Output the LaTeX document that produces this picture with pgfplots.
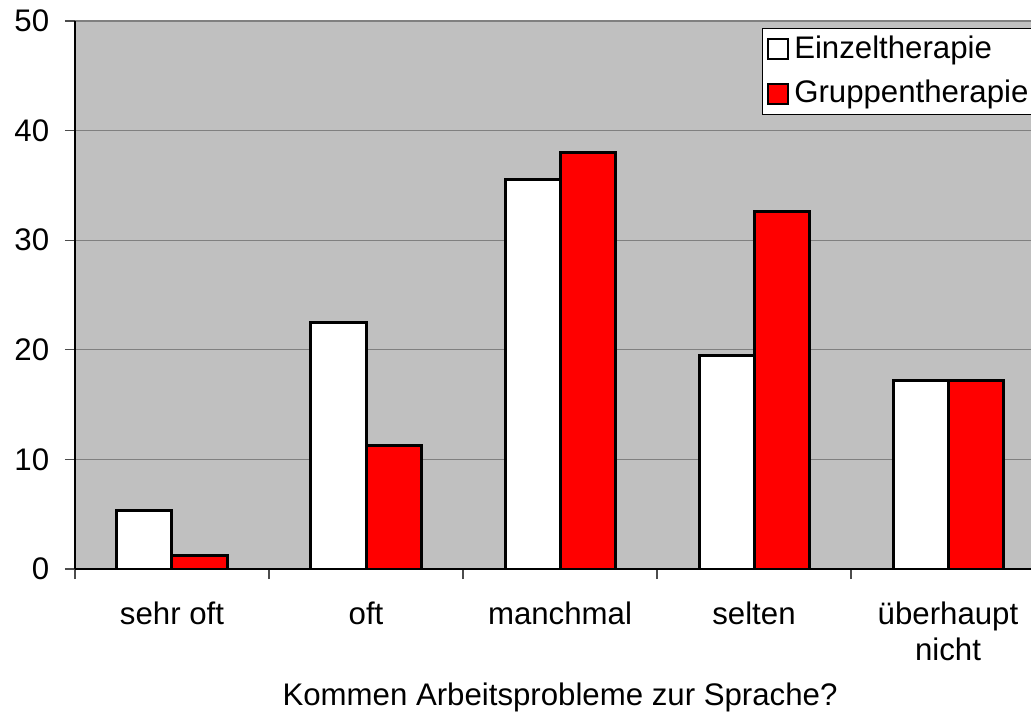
\documentclass[border=0pt]{standalone}
\usepackage{fontspec}
\setmainfont{Liberation Sans}
\usepackage{pgfplots}
\pgfplotsset{compat=1.18}
\definecolor{plotbg}{RGB}{192,192,192}
\definecolor{gridgray}{RGB}{128,128,128}
\definecolor{barred}{RGB}{255,0,0}
\begin{document}
\fontsize{15.6pt}{18pt}\selectfont
\begin{tikzpicture}
\begin{axis}[
    name=ax,
    at={(0,0)}, anchor=south west,
    scale only axis,
    width=485pt, height=274pt,
    ybar=0pt, bar width=27.5pt,
    xmin=-0.5, xmax=4.5, ymin=0, ymax=50,
    axis x line*=bottom, axis y line*=left,
    axis line style={black, line width=0.6pt},
    axis background/.style={fill=plotbg, draw=gridgray, line width=0.6pt},
    xtick={0,...,4},
    xticklabels={sehr oft, oft, manchmal, selten, {überhaupt\\nicht}},
    xticklabel style={align=center, font=\fontsize{15.6pt}{18pt}\selectfont, yshift=-6pt},
    major x tick style={draw=none},
    minor xtick={-0.5,0.5,1.5,2.5,3.5,4.5},
    minor tick length=5pt,
    minor x tick style={black!70, line width=0.6pt},
    ytick={0,10,...,50},
    major tick length=5pt,
    y tick style={black!70, line width=0.6pt},
    tick align=outside,
    yticklabel style={font=\fontsize{15.6pt}{18pt}\selectfont, xshift=-2.5pt},
    /pgf/number format/assume math mode=true,
    ymajorgrids=true,
    grid style={gridgray, line width=0.6pt},
    xlabel={Kommen Arbeitsprobleme zur Sprache?},
    xlabel style={font=\fontsize{15.6pt}{18pt}\selectfont, yshift=-0.5pt},
    legend image code/.code={\draw[#1, line width=1pt] (0pt,-5pt) rectangle (10pt,5pt);},
    legend style={at={(0.708,0.987)}, anchor=north west, draw=black, fill=white,
        line width=0.5pt, font=\fontsize{15.6pt}{18pt}\selectfont,
        inner xsep=2.5pt, inner ysep=1.5pt, row sep=4.5pt,
        nodes={inner xsep=2.5pt, inner ysep=2pt}},
    legend cell align=left,
]
\addplot[fill=white, draw=black, line width=1.5pt] coordinates {
    (0,5.3) (1,22.5) (2,35.5) (3,19.5) (4,17.2)
};
\addplot[fill=barred, draw=black, line width=1.5pt] coordinates {
    (0,1.2) (1,11.3) (2,38.0) (3,32.6) (4,17.2)
};
\legend{Einzeltherapie,Gruppentherapie}
\end{axis}
\pgfresetboundingbox
\path[use as bounding box] ([xshift=-37.5pt,yshift=-73.5pt]ax.south west) rectangle ([xshift=478pt,yshift=284.5pt]ax.south west);
\end{tikzpicture}
\end{document}
